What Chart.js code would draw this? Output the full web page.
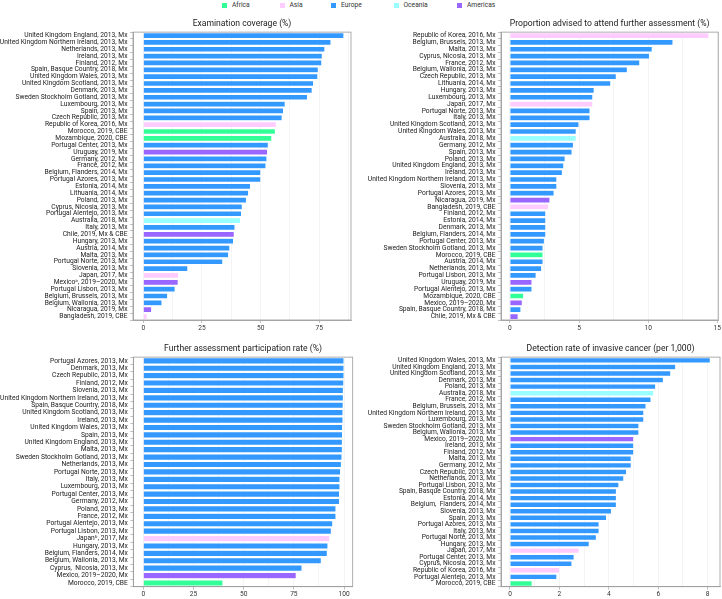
<!DOCTYPE html>
<html><head><meta charset="utf-8">
<script src="https://cdn.jsdelivr.net/npm/chart.js@4"></script>
<style>
html,body{margin:0;padding:0;background:#fff;width:722px;height:599px;overflow:hidden;font-family:Roboto,"DejaVu Sans",sans-serif}
.p{position:absolute}
.li{position:absolute;top:1px;height:8px;line-height:8px;white-space:nowrap;font-size:6.7px;color:#333}
.sw{display:inline-block;width:5px;height:5px;vertical-align:-0.5px;margin-right:5px}
</style></head><body>
<div id="legend"></div>
<div class="p" style="left:0;top:14px;width:361px;height:322px"><canvas id="c1"></canvas></div>
<div class="p" style="left:361px;top:14px;width:361px;height:322px"><canvas id="c2"></canvas></div>
<div class="p" style="left:0;top:336px;width:361px;height:263px"><canvas id="c3"></canvas></div>
<div class="p" style="left:361px;top:336px;width:361px;height:263px"><canvas id="c4"></canvas></div>
<script>
// ---------- data ----------
const regionNames = ["Africa","Asia","Europe","Oceania","Americas"];
const regionColors = {Africa:"#33ff99", Asia:"#ffccff", Europe:"#3399ff", Oceania:"#99ffff", Americas:"#9966ff"};

const title1 = "Examination coverage (%)";
const labels1 = [
"United Kingdom England, 2013, Mx","United Kingdom Northern Ireland, 2013, Mx","Netherlands, 2013, Mx","Ireland, 2013, Mx",
"Finland, 2012, Mx","Spain, Basque Country, 2018, Mx","United Kingdom Wales, 2013, Mx","United Kingdom Scotland, 2013, Mx",
"Denmark, 2013, Mx","Sweden Stockholm Gotland, 2013, Mx","Luxembourg, 2013, Mx","Spain, 2013, Mx","Czech Republic, 2013, Mx",
"Republic of Korea, 2016, Mx","Morocco, 2019, CBE","Mozambique, 2020, CBE","Portugal Center, 2013, Mx","Uruguay, 2019, Mx",
"Germany, 2012, Mx","France, 2012, Mx","Belgium, Flanders, 2014, Mx","Portugal Azores, 2013, Mx","Estonia, 2014, Mx",
"Lithuania, 2014, Mx","Poland, 2013, Mx","Cyprus, Nicosia, 2013, Mx","Portugal Alentejo, 2013, Mx","Australia, 2018, Mx",
"Italy, 2013, Mx","Chile, 2019, Mx & CBE","Hungary, 2013, Mx","Austria, 2014, Mx","Malta, 2013, Mx","Portugal Norte, 2013, Mx",
"Slovenia, 2013, Mx","Japan, 2017, Mx","Mexico\u1d43, 2019\u20132020, Mx","Portugal Lisbon, 2013, Mx","Belgium, Brussels, 2013, Mx",
"Belgium, Wallonia, 2013, Mx","Nicaragua, 2019, Mx","Bangladesh, 2019, CBE"];
const values1 = [85.5,80.0,77.4,76.3,76.1,74.6,74.4,72.6,72.0,70.0,60.5,59.8,59.2,56.7,56.3,54.8,53.3,53.0,52.7,52.3,50.1,50.1,
45.7,44.9,44.0,42.2,41.9,41.5,39.1,38.8,38.5,36.9,36.4,33.9,19.0,15.1,14.9,13.6,10.4,8.0,3.6,1.7];
const regions1 = ["Europe","Europe","Europe","Europe","Europe","Europe","Europe","Europe","Europe","Europe","Europe","Europe","Europe",
"Asia","Africa","Africa","Europe","Americas","Europe","Europe","Europe","Europe","Europe","Europe","Europe","Europe","Europe","Oceania",
"Europe","Americas","Europe","Europe","Europe","Europe","Europe","Asia","Americas","Europe","Europe","Europe","Americas","Asia"];
const ticks1 = [0,25,50,75];

const title2 = "Proportion advised to attend further assessment (%)";
const labels2 = [
"Republic of Korea, 2016, Mx","Belgium, Brussels, 2013, Mx","Malta, 2013, Mx","Cyprus, Nicosia, 2013, Mx","France, 2012, Mx",
"Belgium, Wallonia, 2013, Mx","Czech Republic, 2013, Mx","Lithuania, 2014, Mx","Hungary, 2013, Mx","Luxembourg, 2013, Mx",
"Japan, 2017, Mx","Portugal Norte, 2013, Mx","Italy, 2013, Mx","United Kingdom Scotland, 2013, Mx","United Kingdom Wales, 2013, Mx",
"Australia, 2018, Mx","Germany, 2012, Mx","Spain, 2013, Mx","Poland, 2013, Mx","United Kingdom England, 2013, Mx","Ireland, 2013, Mx",
"United Kingdom Northern Ireland, 2013, Mx","Slovenia, 2013, Mx","Portugal Azores, 2013, Mx","Nicaragua, 2019, Mx",
"Bangladesh, 2019, CBE","Finland, 2012, Mx","Estonia, 2014, Mx","Denmark, 2013, Mx","Belgium, Flanders, 2014, Mx",
"Portugal Center, 2013, Mx","Sweden Stockholm Gotland, 2013, Mx","Morocco, 2019, CBE","Austria, 2014, Mx","Netherlands, 2013, Mx",
"Portugal Lisbon, 2013, Mx","Uruguay, 2019, Mx","Portugal Alentejo, 2013, Mx","Mozambique, 2020, CBE","Mexico, 2019\u20132020, Mx",
"Spain, Basque Country, 2018, Mx","Chile, 2019, Mx & CBE"];
const values2 = [14.4,11.8,10.3,10.1,9.4,8.5,7.7,7.3,6.1,6.0,6.0,5.8,5.8,5.0,4.8,4.8,4.6,4.5,4.0,3.9,3.8,3.4,3.4,3.2,2.9,2.8,
2.6,2.6,2.6,2.6,2.5,2.4,2.4,2.4,2.3,1.9,1.6,1.6,1.0,0.9,0.8,0.6];
const regions2 = ["Asia","Europe","Europe","Europe","Europe","Europe","Europe","Europe","Europe","Europe","Asia","Europe","Europe",
"Europe","Europe","Oceania","Europe","Europe","Europe","Europe","Europe","Europe","Europe","Europe","Americas","Asia","Europe","Europe",
"Europe","Europe","Europe","Europe","Africa","Europe","Europe","Europe","Americas","Europe","Africa","Americas","Europe","Americas"];
const ticks2 = [0,5,10,15];

const title3 = "Further assessment participation rate (%)";
const labels3 = [
"Portugal Azores, 2013, Mx","Denmark, 2013, Mx","Czech Republic, 2013, Mx","Finland, 2012, Mx","Slovenia, 2013, Mx",
"United Kingdom Northern Ireland, 2013, Mx","Spain, Basque Country, 2018, Mx","United Kingdom Scotland, 2013, Mx","Ireland, 2013, Mx",
"United Kingdom Wales, 2013, Mx","Spain, 2013, Mx","United Kingdom England, 2013, Mx","Malta, 2013, Mx",
"Sweden Stockholm Gotland, 2013, Mx","Netherlands, 2013, Mx","Portugal Norte, 2013, Mx","Italy, 2013, Mx","Luxembourg, 2013, Mx",
"Portugal Center, 2013, Mx","Germany, 2012, Mx","Poland, 2013, Mx","France, 2012, Mx","Portugal Alentejo, 2013, Mx",
"Portugal Lisbon, 2013, Mx","Japan\u1d47, 2017, Mx","Hungary, 2013, Mx","Belgium, Flanders, 2014, Mx","Belgium, Wallonia, 2013, Mx",
"Cyprus,  Nicosia, 2013, Mx","Mexico, 2019\u20132020, Mx","Morocco, 2019, CBE"];
const values3 = [100,100,100,99.9,99.7,99.7,99.6,99.5,99.5,99.3,99.3,99.2,99.2,99.0,98.7,98.3,98.0,98.0,97.8,97.8,96.0,96.0,
94.4,93.7,92.9,92.0,91.7,88.7,79.1,76.2,39.7];
const regions3 = ["Europe","Europe","Europe","Europe","Europe","Europe","Europe","Europe","Europe","Europe","Europe","Europe","Europe",
"Europe","Europe","Europe","Europe","Europe","Europe","Europe","Europe","Europe","Europe","Europe","Asia","Europe","Europe","Europe",
"Europe","Americas","Africa"];
const ticks3 = [0,25,50,75,100];

const title4 = "Detection rate of invasive cancer (per 1,000)";
const labels4 = [
"United Kingdom Wales, 2013, Mx","United Kingdom England, 2013, Mx","United Kingdom Scotland, 2013, Mx","Denmark, 2013, Mx",
"Poland, 2013, Mx","Australia, 2018, Mx","France, 2012, Mx","Belgium, Brussels, 2013, Mx","United Kingdom Northern Ireland, 2013, Mx",
"Luxembourg, 2013, Mx","Sweden Stockholm Gotland, 2013, Mx","Belgium, Wallonia, 2013, Mx","Mexico, 2019\u20132020, Mx",
"Ireland, 2013, Mx","Finland, 2012, Mx","Malta, 2013, Mx","Germany, 2012, Mx","Czech Republic, 2013, Mx","Netherlands, 2013, Mx",
"Portugal Lisbon, 2013, Mx","Spain, Basque Country, 2018, Mx","Estonia, 2014, Mx","Belgium,  Flanders, 2014, Mx","Slovenia, 2013, Mx",
"Spain, 2013, Mx","Portugal Azores, 2013, Mx","Italy, 2013, Mx","Portugal Norte, 2013, Mx","Hungary, 2013, Mx","Japan, 2017, Mx",
"Portugal Center, 2013, Mx","Cyprus, Nicosia, 2013, Mx","Republic of Korea, 2016, Mx","Portugal Alentejo, 2013, Mx",
"Morocco, 2019, CBE"];
const values4 = [8.11,6.71,6.51,6.21,5.90,5.82,5.71,5.51,5.42,5.42,5.22,5.22,5.01,5.01,5.01,4.91,4.91,4.72,4.61,4.41,4.31,4.31,
4.31,4.11,3.91,3.61,3.61,3.50,3.21,2.80,2.60,2.51,2.01,1.90,0.90];
const regions4 = ["Europe","Europe","Europe","Europe","Europe","Oceania","Europe","Europe","Europe","Europe","Europe","Europe",
"Americas","Europe","Europe","Europe","Europe","Europe","Europe","Europe","Europe","Europe","Europe","Europe","Europe","Europe",
"Europe","Europe","Europe","Asia","Europe","Europe","Asia","Europe","Africa"];
const ticks4 = [0,2,4,6,8];

// ---------- legend ----------
const legendX = [222, 279.5, 331, 393.5, 457];
const legend = document.getElementById('legend');
regionNames.forEach((r,i)=>{
  const d=document.createElement('div'); d.className='li'; d.style.left=legendX[i]+'px';
  d.innerHTML='<span class="sw" style="background:'+regionColors[r]+'"></span>'+r;
  legend.appendChild(d);
});

// ---------- charts ----------
const FAM = 'Roboto, "DejaVu Sans", sans-serif';
const framePlugin = {id:'frame', afterDatasetsDraw(chart){
  const {ctx, chartArea:a} = chart; ctx.save(); ctx.strokeStyle='#9a9a9a'; ctx.lineWidth=0.8;
  ctx.strokeRect(a.left, a.top, a.right-a.left, a.bottom-a.top); ctx.restore();
}};

function make(id, title, labels, values, regions, majors, gridStep, min, max, yWidth, padRight, tPad, xHeight){
  const isMajor = v => majors.some(m => Math.abs(m - v) < 1e-6);
  new Chart(document.getElementById(id), {
    type:'bar',
    data:{labels, datasets:[{data:values,
      backgroundColor: regions.map(r=>regionColors[r]),
      borderColor:'rgba(255,255,255,0.55)', borderWidth:0.6,
      barPercentage:0.86, categoryPercentage:1}]},
    plugins:[framePlugin],
    options:{
      indexAxis:'y', responsive:true, maintainAspectRatio:false, animation:false,
      layout:{padding:{left:0,right:padRight,top:0,bottom:0}},
      plugins:{legend:{display:false}, tooltip:{enabled:false},
        title:{display:true, text:title, fullSize:false, color:'#1a1a1a',
          font:{size:8.6, weight:'normal', family:FAM}, padding:tPad}},
      scales:{
        x:{type:'linear', min, max,
          afterBuildTicks(ax){ const t=[]; for(let v=0; v<=max+1e-9; v+=gridStep) t.push({value:Math.round(v*1000)/1000}); ax.ticks=t; },
          afterFit(ax){ ax.height = xHeight; },
          grid:{color:'#ededed', lineWidth:0.6, drawTicks:true, tickLength:3,
            tickColor: c => (c.tick && isMajor(c.tick.value)) ? '#999' : 'rgba(0,0,0,0)'},
          border:{display:true, color:'#999', width:0.8},
          ticks:{font:{size:6.6, family:FAM}, color:'#333', padding:1, maxRotation:0, autoSkip:false,
            callback:(v)=> isMajor(v) ? String(v) : ''}},
        y:{type:'category',
          afterFit(ax){ ax.width = yWidth; },
          grid:{drawOnChartArea:false, drawTicks:true, tickLength:3, color:'#999', lineWidth:0.6},
          border:{display:true, color:'#999', width:0.8},
          ticks:{font:{size:6.7, family:FAM}, color:'#222', padding:2.5, autoSkip:false}}
      }
    }
  });
}

make('c1', title1, labels1, values1, regions1, ticks1, 12.5, -4.39, 88.5, 133, 10, {top:4.9,bottom:2.9}, 16);
make('c2', title2, labels2, values2, regions2, ticks2, 2.5, -0.646, 15.07, 140, 2, {top:4.9,bottom:2.9}, 16);
make('c3', title3, labels3, values3, regions3, ticks3, 12.5, -4.98, 104.3, 133.3, 8.3, {top:7.9,bottom:2.9}, 12.3);
make('c4', title4, labels4, values4, regions4, ticks4, 1, -0.364, 8.5, 140, 2, {top:7.9,bottom:2.9}, 12.3);
</script>
</body></html>
